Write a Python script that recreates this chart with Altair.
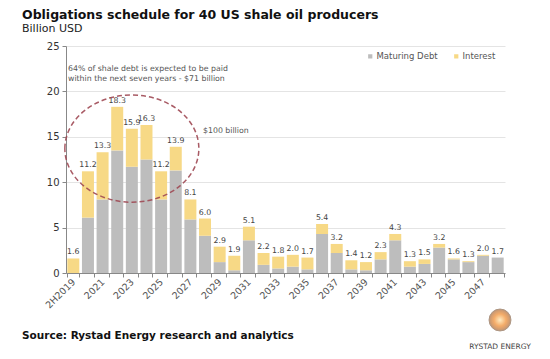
import altair as alt
import pandas as pd

years = ["2H2019", "2020", "2021", "2022", "2023", "2024", "2025", "2026", "2027", "2028",
         "2029", "2030", "2031", "2032", "2033", "2034", "2035", "2036", "2037", "2038",
         "2039", "2040", "2041", "2042", "2043", "2044", "2045", "2046", "2047", "2048"]
maturing_debt = [0.0, 6.1, 8.1, 13.5, 11.7, 12.5, 8.1, 11.3, 5.9, 4.1,
                 1.2, 0.3, 3.6, 0.9, 0.5, 0.7, 0.4, 4.3, 2.2, 0.4,
                 0.3, 1.5, 3.6, 0.7, 1.0, 2.8, 1.5, 1.2, 1.9, 1.7]
interest = [1.6, 5.1, 5.2, 4.8, 4.2, 3.8, 3.1, 2.6, 2.2, 1.9,
            1.7, 1.6, 1.5, 1.3, 1.3, 1.3, 1.3, 1.1, 1.0, 1.0,
            0.9, 0.8, 0.7, 0.6, 0.5, 0.4, 0.1, 0.1, 0.1, 0.0]
totals = [1.6, 11.2, 13.3, 18.3, 15.9, 16.3, 11.2, 13.9, 8.1, 6.0,
          2.9, 1.9, 5.1, 2.2, 1.8, 2.0, 1.7, 5.4, 3.2, 1.4,
          1.2, 2.3, 4.3, 1.3, 1.5, 3.2, 1.6, 1.3, 2.0, 1.7]
series = ["Maturing Debt", "Interest"]
colors = ["#bdbdbd", "#f7d986"]
y_ticks = [0, 5, 10, 15, 20, 25]

FONT = "DejaVu Sans"

rows = []
for i, yr in enumerate(years):
    rows.append({"year": yr, "series": series[0], "value": maturing_debt[i], "ord": 0})
    rows.append({"year": yr, "series": series[1], "value": interest[i], "ord": 1})
df = pd.DataFrame(rows)
tot = pd.DataFrame({"year": years, "total": totals})

xenc = alt.X(
    "year:N", sort=years,
    scale=alt.Scale(paddingInner=0.18, paddingOuter=0.09),
    axis=alt.Axis(
        title=None, labelAngle=-45, labelAlign="right", labelBaseline="middle",
        tickBand="extent", tickSize=4, tickColor="#888", domainColor="#888",
        labelFont=FONT, labelFontSize=9.5, labelColor="#555", labelPadding=3,
        labelOverlap=False,
        labelExpr="datum.value == '2H2019' || (toNumber(datum.value) % 2 == 1) ? datum.value : ''",
    ),
)
yscale = alt.Scale(domain=[0, 25], nice=False)

bars = alt.Chart(df).mark_bar().encode(
    x=xenc,
    y=alt.Y("value:Q", stack="zero", scale=yscale,
            axis=alt.Axis(title=None, values=y_ticks, tickSize=4, tickColor="#888",
                          domainColor="#888", gridColor="#e4e4e4", labelFont=FONT,
                          labelFontSize=10, labelColor="#333", labelPadding=3)),
    color=alt.Color("series:N", scale=alt.Scale(domain=series, range=colors),
                    legend=alt.Legend(title=None, orient="none", legendX=300, legendY=6,
                                      direction="horizontal", symbolType="square",
                                      symbolSize=18, labelFont=FONT, labelFontSize=8.5,
                                      labelColor="#555", columnPadding=14, labelOffset=2)),
    order=alt.Order("ord:Q", sort="ascending"),
)

labels = alt.Chart(tot).mark_text(dy=-6, fontSize=7.8, font=FONT, color="#444").encode(
    x=alt.X("year:N", sort=years),
    y=alt.Y("total:Q", scale=yscale),
    text=alt.Text("total:Q", format=".1f"),
)

ell_df = pd.DataFrame({"year": ["2023"], "yc": [13.7]})
ellipse = alt.Chart(ell_df).mark_point(
    shape="M -1 0 A 1 0.8 0 1 1 1 0 A 1 0.8 0 1 1 -1 0 Z",
    size=17956, filled=False, stroke="#a04a55", strokeWidth=1.5, strokeDash=[5, 3], opacity=0.9,
).encode(x=alt.X("year:N", sort=years), y=alt.Y("yc:Q", scale=yscale))

one = pd.DataFrame({"a": [0]})

def txt(text, x, y, size, color="#555", weight="normal", align="left", baseline="alphabetic"):
    return alt.Chart(one).mark_text(
        text=text, font=FONT, fontSize=size, color=color, fontWeight=weight,
        align=align, baseline=baseline,
    ).encode(x=alt.value(x), y=alt.value(y))

note = alt.Chart(one).mark_text(
    text=["64% of shale debt is expected to be paid",
          "within the next seven years - $71 billion"],
    font=FONT, fontSize=7.8, color="#555", align="left", baseline="middle", lineHeight=10,
).encode(x=alt.value(2), y=alt.value(23))

hundred = txt("$100 billion", 137, 86.5, 7.8)
title = txt("Obligations schedule for 40 US shale oil producers", -44, -27, 12.5, "#111", "bold")
subtitle = txt("Billion USD", -44, -14.5, 11, "#222")
source = txt("Source: Rystad Energy research and analytics", -44, 293, 10.5, "#111", "bold")

logo = alt.Chart(one).mark_point(
    shape="circle", filled=True, size=480,
    fill=alt.RadialGradient(
        gradient="radial",
        stops=[alt.GradientStop(color="#ffe3a8", offset=0),
               alt.GradientStop(color="#f0892a", offset=0.55),
               alt.GradientStop(color="#a8683a", offset=1)],
    ),
    stroke="#8a6a50", strokeWidth=1.0,
).encode(x=alt.value(434), y=alt.value(274))
logo_txt = txt("RYSTAD ENERGY", 434, 303, 7.5, "#444", align="center")

chart = alt.layer(
    bars, labels, ellipse, note, hundred, title, subtitle, source, logo, logo_txt
).properties(
    width=439, height=227,
    autosize=alt.AutoSizeParams(type="none"),
    padding={"left": 58, "top": 38, "right": 37, "bottom": 78},
).configure_view(stroke=None)

chart.save("out.html", embed_options={"renderer": "svg", "actions": False})
